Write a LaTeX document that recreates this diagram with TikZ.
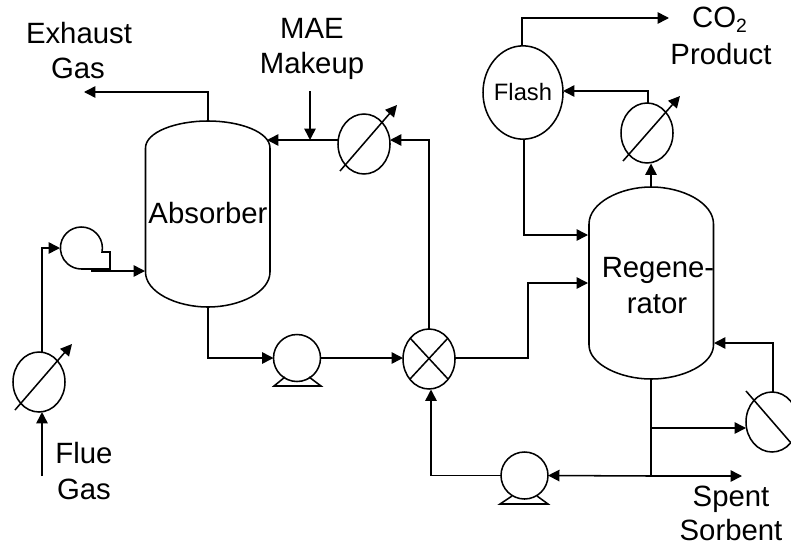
\documentclass[tikz,border=0pt]{standalone}
\usepackage{fontspec}
\setmainfont{Liberation Sans}
\usetikzlibrary{arrows.meta,shapes.geometric}
\tikzset{
  flow/.style={line width=1.15pt,-{Triangle[length=8.6pt,width=8.6pt]}},
  pipe/.style={line width=1.15pt},
  unit/.style={draw,line width=1.15pt,ellipse,inner sep=0pt,outer sep=0pt,minimum width=39pt,minimum height=45pt},
  pumpbody/.style={draw,line width=1.15pt,circle,inner sep=0pt,outer sep=0pt,minimum size=35.25pt},
  vessel/.style={line width=1.15pt},
  lbl/.style={font=\fontsize{22}{24}\selectfont,inner sep=0pt,anchor=base},
  lblsmall/.style={font=\fontsize{17.8}{20}\selectfont,inner sep=0pt,anchor=base}
}
\begin{document}
\begin{tikzpicture}[x=0.75pt,y=-0.75pt]
\useasboundingbox (0,0) rectangle (791,546);
\clip (0,0) rectangle (791,546);
\fill[white] (0,0) rectangle (791,546);

% vessels
\draw[vessel] (145.5,148) .. controls (145.5,132) and (176,121) .. (208,121) .. controls (240,121) and (270,132) .. (270,148)
  -- (270,272) .. controls (270,292) and (240,307) .. (208,307) .. controls (176,307) and (145.5,292) .. (145.5,272) -- cycle;
\draw[vessel] (589,224) .. controls (589,203) and (620,187) .. (651,187) .. controls (683,187) and (713.5,203) .. (713.5,224)
  -- (713.5,345) .. controls (713.5,364) and (683,379) .. (651,379) .. controls (620,379) and (589,364) .. (589,345) -- cycle;
\node[lbl] (absorber) at (208,223) {Absorber};
\node[lbl] (regene) at (658,277) {Regene-};
\node[lbl] (rator) at (657,313) {rator};

% round units
\node[unit] (hxa) at (39,382) {};
\node[unit] (hxb) at (364,144) {};
\node[unit] (hxc) at (647,133) {};
\node[unit] (hxd) at (772,422) {};
\node[unit] (mixer) at (429,359) {};
\node[unit,minimum width=60pt,minimum height=70pt] (flash) at (523,92.5) {};
\node[lblsmall] (flashlabel) at (523,100) {Flash};
\node[pumpbody] (pumpa) at (297,358) {};
\node[pumpbody] (pumpb) at (524.5,475.5) {};

% pump feet
\draw[pipe] (285,377) -- (274,386) -- (321,386) -- (309,377);
\draw[pipe] (512,496) -- (500,504) -- (548,504) -- (537,496);

% blower
\coordinate (blowerin) at (60,248);
\draw[pipe] (102,252) arc[start angle=11,end angle=-270,x radius=21,y radius=21] -- (110,269) -- (110,252) -- cycle;

% mixer cross
\draw[pipe] (410,338) -- (448,379);
\draw[pipe] (410,379) -- (448,338);

% heat exchanger slashes
\draw[flow] (15,410) -- (72,344);
\draw[flow] (340,171) -- (397,105);
\draw[flow] (623,161) -- (680,96);
\draw[pipe] (746,391) -- (791,443);

% free ends
\coordinate (fluein) at (42,476);
\coordinate (blowerout) at (91,271);
\coordinate (absin) at (145,271);
\coordinate (exhaust) at (84,92);
\coordinate (absouttop) at (208,121);
\coordinate (absoutbot) at (208,307);
\coordinate (absreturn) at (267,140);
\coordinate (makeup) at (310,91);
\coordinate (makeupj) at (310,140);
\coordinate (regenin) at (588,283);
\coordinate (regenflash) at (588,235);
\coordinate (regenbot) at (651,379);
\coordinate (regentop) at (651,187);
\coordinate (j1) at (651,428);
\coordinate (j2) at (651,476);
\coordinate (spent) at (742,476);
\coordinate (regenside) at (714,343);
\coordinate (co2) at (669,18);

% connectors
\draw[flow] (fluein) -- (42,412);
\draw[flow] (42,352) |- (blowerin);
\draw[flow] (blowerout) -- (absin);
\draw[flow] (absouttop) |- (exhaust);
\draw[flow] (absoutbot) |- (pumpa.west);
\draw[flow] (pumpa.east) -- (mixer.west |- pumpa.east);
\draw[flow] (429,329) |- (hxb.east |- 0,140);
\draw[flow] (hxb.west |- 0,140) -- (absreturn);
\draw[flow] (makeup) -- (makeupj);
\draw[flow] (455,358) -| (528,283) -- (regenin);
\draw[flow] (j2) -- (pumpb.east);
\draw[flow] (pumpb.west) -| (431,389.5);
\draw[pipe] (regenbot) -- (j2);
\draw[flow] (j1) -- (hxd.west |- j1);
\draw[flow] (j2) -- (spent);
\draw[flow] (773,392) |- (regenside);
\draw[flow] (regentop) -- (651,163.5);
\draw[flow] (648,103) |- (flash.east |- 0,91);
\draw[flow] (522,46) |- (co2);
\draw[flow] (524,139) |- (regenflash);

% labels
\node[lbl] (t1) at (79,43) {Exhaust};
\node[lbl] (t2) at (78,78) {Gas};
\node[lbl] (t3) at (312,38) {MAE};
\node[lbl] (t4) at (312,73) {Makeup};
\node[lbl] (t5) at (719.5,27) {CO\raisebox{-0.2em}{\fontsize{14.5}{16}\selectfont 2}};
\node[lbl] (t6) at (721,64) {Product};
\node[lbl] (t7) at (84,463) {Flue};
\node[lbl] (t8) at (84,499) {Gas};
\node[lbl] (t9) at (731,506) {Spent};
\node[lbl] (t10) at (731,540) {Sorbent};
\end{tikzpicture}
\end{document}
